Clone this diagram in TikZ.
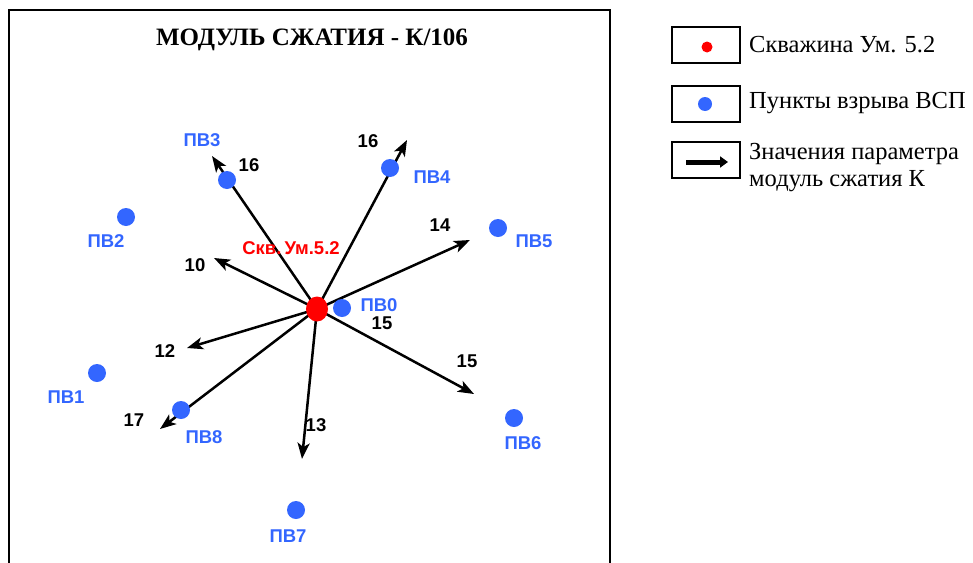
\documentclass[tikz,border=0pt]{standalone}
\usepackage{fontspec}
\setmainfont{Liberation Serif}
\newfontfamily\labfont{Liberation Sans}
\usetikzlibrary{arrows.meta,shapes.geometric}
\definecolor{pvblue}{RGB}{51,102,255}
\definecolor{wellred}{RGB}{255,0,0}
\begin{document}
\begin{tikzpicture}[x=1pt,y=-1pt,
  pvdot/.style={circle,fill=pvblue,inner sep=0pt,minimum size=18pt},
  welldot/.style={ellipse,fill=wellred,inner sep=0pt,minimum width=22pt,minimum height=25pt},
  pvlab/.style={font=\labfont\bfseries\fontsize{18.5}{18.5}\selectfont,text=pvblue,inner sep=0pt},
  numlab/.style={font=\labfont\bfseries\fontsize{18.5}{18.5}\selectfont,text=black,inner sep=0pt},
  arr/.style={line width=2.5pt,-{Stealth[length=16pt,width=12pt,inset=4pt]}},
  legbox/.style={draw,line width=2pt,minimum width=68pt,minimum height=36pt,inner sep=0pt},
  legtext/.style={font=\fontsize{24.5}{27}\selectfont,anchor=west,inner sep=0pt,align=left}]
\useasboundingbox (0,0) rectangle (973,562);
% frame
\draw[line width=2pt] (9,563) -- (9,10) -- (610,10) -- (610,563);
\node[font=\bfseries\fontsize{25}{27}\selectfont] (title) at (312,40) {МОДУЛЬ СЖАТИЯ - К/106};
% centre
\coordinate (c) at (317,309);
\coordinate (t16a) at (212,156);
\coordinate (t16b) at (407,140);
\coordinate (t14) at (470,240);
\coordinate (t10) at (214,258);
\coordinate (t12) at (187,348);
\coordinate (t17) at (160,429);
\coordinate (t13) at (302,459);
\coordinate (t15) at (474,394);
\foreach \t in {t16a,t16b,t14,t10,t12,t17,t13,t15} \draw[arr] (c) -- (\t);
% shot points
\node[pvdot] (pv0) at (342,308) {};
\node[pvdot] (pv1) at (97,373) {};
\node[pvdot] (pv2) at (126,217) {};
\node[pvdot] (pv3) at (227,180) {};
\node[pvdot] (pv4) at (390,168) {};
\node[pvdot] (pv5) at (498,228) {};
\node[pvdot] (pv6) at (514,418) {};
\node[pvdot] (pv7) at (296,510) {};
\node[pvdot] (pv8) at (181,410) {};
\node[welldot] (well) at (c) {};
% labels
\node[pvlab] (l0) at (379,305) {ПВ0};
\node[pvlab] (l1) at (66,397) {ПВ1};
\node[pvlab] (l2) at (106,241) {ПВ2};
\node[pvlab] (l3) at (202,140) {ПВ3};
\node[pvlab] (l4) at (432,177) {ПВ4};
\node[pvlab] (l5) at (534,241) {ПВ5};
\node[pvlab] (l6) at (523,443) {ПВ6};
\node[pvlab] (l7) at (288,536) {ПВ7};
\node[pvlab] (l8) at (204,437) {ПВ8};
\node[font=\labfont\bfseries\fontsize{18.5}{18.5}\selectfont,text=wellred,inner sep=0pt] (lw) at (291,248) {Скв.\,Ум.5.2};
% values
\node[numlab] (n16a) at (249,165) {16};
\node[numlab] (n16b) at (368,141) {16};
\node[numlab] (n14) at (440,225) {14};
\node[numlab] (n10) at (195,265) {10};
\node[numlab] (n12) at (165,351) {12};
\node[numlab] (n17) at (134,420) {17};
\node[numlab] (n13) at (316,425) {13};
\node[numlab] (n15a) at (382,323) {15};
\node[numlab] (n15b) at (467,361) {15};
% legend
\node[legbox] (b1) at (706,45) {};
\node[legbox] (b2) at (706,104) {};
\node[legbox] (b3) at (706,160) {};
\node[circle,fill=wellred,inner sep=0pt,minimum size=11pt] (ld1) at (707,47) {};
\node[circle,fill=pvblue,inner sep=0pt,minimum size=14pt] (ld2) at (705,104) {};
\coordinate (la1) at (686,162);
\coordinate (la2) at (728,162);
\draw[line width=5pt,-{Triangle[length=8pt,width=11pt]}] (la1) -- (la2);
\node[legtext] (tx1) at (749,45) {Скважина Ум. 5.2};
\node[legtext] (tx2) at (749,103) {Пункты взрыва ВСП};
\node[legtext] (tx3) at (749,168) {Значения параметра\\модуль сжатия К};
\end{tikzpicture}
\end{document}
